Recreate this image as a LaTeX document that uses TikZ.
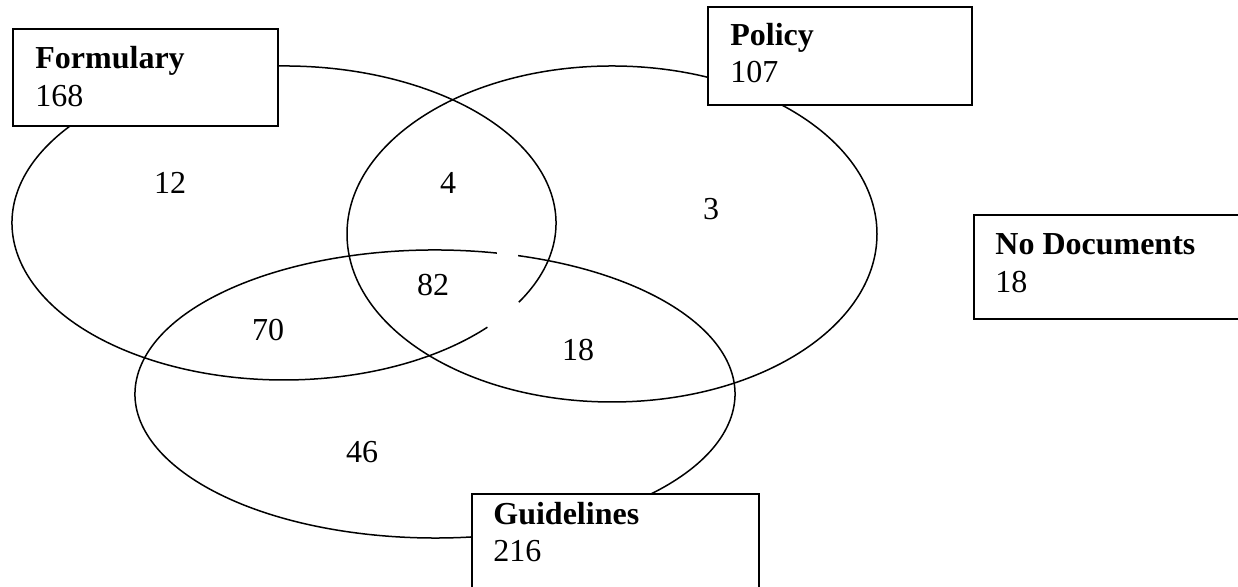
\documentclass[tikz,border=0pt]{standalone}
\usepackage{fontspec}
\setmainfont{Liberation Serif}
\begin{document}
\begin{tikzpicture}[x=0.5pt,y=0.5pt,
  venn/.style={line width=0.75pt},
  setbox/.style={draw, line width=0.8pt, fill=white, anchor=north west, inner sep=0pt},
  boxtext/.style={anchor=base west, inner sep=0pt, font=\fontsize{16pt}{19pt}\selectfont},
  count/.style={inner sep=0pt, font=\fontsize{16pt}{19pt}\selectfont}]
\useasboundingbox (0,0) rectangle (1238,587);
\clip (0,0) rectangle (1238,587);
% ellipses
\draw[venn] (284,364) ++(-30.3:136pt and 78.5pt) arc[start angle=-30.3, end angle=318.4, x radius=136pt, y radius=78.5pt];
\draw[venn] (612,353) ellipse[x radius=132.5pt, y radius=84pt];
\draw[venn] (435,193) ++(78.1:150pt and 72pt) arc[start angle=78.1, end angle=433.9, x radius=150pt, y radius=72pt];
% boxes
\node[setbox, minimum width=132.5pt, minimum height=48.5pt] (formbox) at (12,559) {};
\node[setbox, minimum width=132pt, minimum height=49pt] (polbox) at (707,581) {};
\node[setbox, minimum width=143.5pt, minimum height=60pt] (guidebox) at (471,94) {};
\node[setbox, minimum width=140pt, minimum height=52pt] (nodocbox) at (973,373) {};
% box texts
\node[boxtext] (formt) at (35,518) {\textbf{Formulary}};
\node[boxtext] (formn) at (35,480) {168};
\node[boxtext] (polt) at (730,541) {\textbf{Policy}};
\node[boxtext] (poln) at (730,504) {107};
\node[boxtext] (guidet) at (493,62) {\textbf{Guidelines}};
\node[boxtext] (guiden) at (493,25) {216};
\node[boxtext] (nodoct) at (995,332) {\textbf{No Documents}};
\node[boxtext] (nodocn) at (995,294) {18};
% region counts
\node[count] (c12) at (170,404) {12};
\node[count] (c4) at (448,404) {4};
\node[count] (c3) at (711,378) {3};
\node[count] (c82) at (433,302) {82};
\node[count] (c70) at (268,257) {70};
\node[count] (c18) at (578,237) {18};
\node[count] (c46) at (362,135) {46};
\end{tikzpicture}
\end{document}
